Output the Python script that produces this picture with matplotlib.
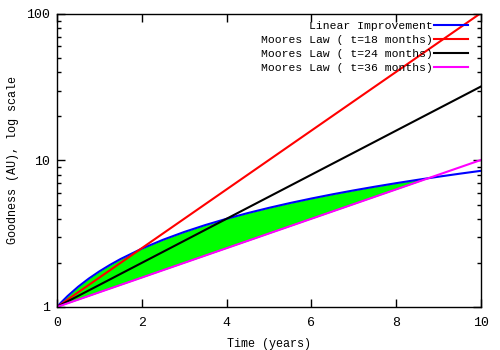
import matplotlib
matplotlib.use("Agg")
import matplotlib.pyplot as plt
from matplotlib.ticker import FixedLocator, LogLocator, NullFormatter

# Time axis in years (denser near zero where the curves bend most)
years = [0, 0.1, 0.25, 0.5, 0.75, 1, 1.25, 1.5, 2, 2.5, 3, 3.5, 4, 4.5, 5,
         5.5, 6, 6.5, 7, 7.5, 8, 8.5, 9, 9.5, 10]

# Linear improvement
linear = [1.0, 1.075, 1.1875, 1.375, 1.5625, 1.75, 1.9375, 2.125, 2.5, 2.875,
          3.25, 3.625, 4.0, 4.375, 4.75, 5.125, 5.5, 5.875, 6.25, 6.625, 7.0,
          7.375, 7.75, 8.125, 8.5]

# Doubling every 18 months
moore18 = [1.0, 1.047, 1.122, 1.26, 1.414, 1.587, 1.782, 2.0, 2.52, 3.175,
           4.0, 5.04, 6.35, 8.0, 10.08, 12.7, 16.0, 20.16, 25.4, 32.0, 40.3,
           50.8, 64.0, 80.6, 101.6]

# Doubling every 24 months
moore24 = [1.0, 1.035, 1.091, 1.189, 1.297, 1.414, 1.542, 1.682, 2.0, 2.378,
           2.828, 3.364, 4.0, 4.757, 5.657, 6.727, 8.0, 9.514, 11.31, 13.45,
           16.0, 19.03, 22.63, 26.91, 32.0]

# Doubling every 36 months
moore36 = [1.0, 1.023, 1.059, 1.122, 1.189, 1.26, 1.335, 1.414, 1.587, 1.782,
           2.0, 2.245, 2.52, 2.828, 3.175, 3.564, 4.0, 4.49, 5.04, 5.657, 6.35,
           7.127, 8.0, 8.98, 10.08]

series_labels = ["Linear Improvement",
                 "Moores Law ( t=18 months)",
                 "Moores Law ( t=24 months)",
                 "Moores Law ( t=36 months)"]
x_ticks = [0, 2, 4, 6, 8, 10]
y_ticks = [1, 10, 100]

plt.rcParams["font.family"] = ["Liberation Mono", "DejaVu Sans Mono"]
plt.rcParams["font.size"] = 8

fig = plt.figure(figsize=(5, 3.5), dpi=100)
ax = fig.add_axes([0.114, 0.123, 0.848, 0.837])

# Region where linear growth beats the slowest doubling
ax.fill_between(years, moore36, linear,
                where=[a >= b for a, b in zip(linear, moore36)],
                interpolate=True, color="#00ff00", linewidth=0)

lw = 1.5
ax.plot(years, linear, color="#0000ff", lw=lw, label=series_labels[0])
ax.plot(years, moore18, color="#ff0000", lw=lw, label=series_labels[1])
ax.plot(years, moore24, color="#000000", lw=lw, label=series_labels[2])
ax.plot(years, moore36, color="#ff00ff", lw=lw, label=series_labels[3])

ax.set_yscale("log")
ax.set_xlim(0, 10)
ax.set_ylim(1, 100)
ax.xaxis.set_major_locator(FixedLocator(x_ticks))
ax.set_xticklabels([str(t) for t in x_ticks])
ax.yaxis.set_major_locator(FixedLocator(y_ticks))
ax.set_yticklabels([str(t) for t in y_ticks])
ax.yaxis.set_minor_locator(LogLocator(base=10, subs=range(2, 10)))
ax.yaxis.set_minor_formatter(NullFormatter())

ax.tick_params(which="both", direction="in", top=True, right=True,
               width=1, color="black", pad=5, labelsize=9.5)
ax.tick_params(axis="x", which="major", pad=7)
ax.tick_params(which="major", length=6)
ax.tick_params(which="minor", length=3)
for s in ax.spines.values():
    s.set_linewidth(1)

ax.set_xlabel("Time (years)", fontsize=8.5, labelpad=7)
ax.set_ylabel("Goodness (AU), log scale", fontsize=8.5, labelpad=5)

ax.legend(loc="upper right", bbox_to_anchor=(0.974, 0.983), frameon=False,
          markerfirst=False, handlelength=3.0, handletextpad=0.05,
          labelspacing=0.35, borderaxespad=0, borderpad=0.2, fontsize=8.2)

fig.savefig("out.png", dpi=100)
